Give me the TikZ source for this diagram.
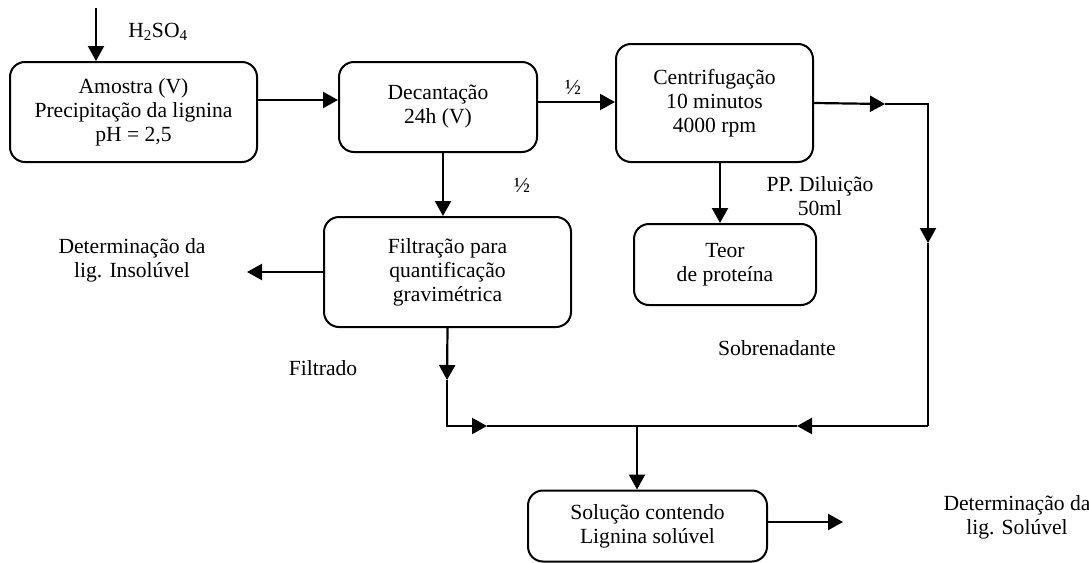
\documentclass[tikz,border=0pt]{standalone}
\usepackage{fontspec}
\setmainfont{Liberation Serif}
\usetikzlibrary{arrows.meta}
\begin{document}
\begin{tikzpicture}[x=1pt,y=-1pt, font=\fontsize{21.6}{24}\selectfont,
  box/.style={draw, line width=2pt, rounded corners=15pt, align=center, inner sep=0pt},
  conn/.style={line width=2.2pt},
  arr/.style={conn, -{Triangle[length=15pt,width=16pt]}},
  lbl/.style={align=center, inner sep=0pt}]
\useasboundingbox (0,0) rectangle (1089,562);

% boxes
\node[box, minimum width=247pt, minimum height=100pt] (am) at (133.5,112) {Amostra (V)\\Precipitação da lignina\\pH = 2,5};
\node[box, minimum width=198pt, minimum height=90pt] (dec) at (438,107) {Decantação\\24h (V)};
\node[box, minimum width=197pt, minimum height=118pt] (cen) at (714.5,103) {Centrifugação\\10 minutos\\4000 rpm};
\node[box, minimum width=247pt, minimum height=110pt] (fil) at (447.5,272) {Filtração para\\quantificação\\gravimétrica};
\node[box, minimum width=182pt, minimum height=81pt] (teor) at (725,264.5) {Teor\\de proteína};
\node[box, minimum width=239pt, minimum height=71pt] (sol) at (647.5,526) {Solução contendo\\Lignina solúvel};

% labels
\node[lbl] (h2so4) at (158,32) {H\textsubscript{2}SO\textsubscript{4}};
\node[lbl] (half1) at (573,87) {½};
\node[lbl] (half2) at (522,185) {½};
\node[lbl] (pp) at (820,196) {PP. Diluição\\50ml};
\node[lbl] (detin) at (132,260) {Determinação da\\lig. Insolúvel};
\node[lbl] (filt) at (323,368) {Filtrado};
\node[lbl] (sobr) at (777,348) {Sobrenadante};
\node[lbl] (detsol) at (1017,517) {Determinação da\\lig. Solúvel};

% coordinates
\coordinate (top) at (96,8);
\coordinate (tra) at (885,104);
\coordinate (tr) at (928,104);
\coordinate (rm) at (928,243);
\coordinate (br) at (928,426);
\coordinate (brl) at (797,426);
\coordinate (jn) at (637,426);
\coordinate (lm) at (447,380);
\coordinate (bl) at (447,426);
\coordinate (bla) at (487,426);
\coordinate (insl) at (247,272);
\coordinate (solr) at (843,522);

% connectors
\draw[arr] (top) -- (top |- am.north);
\draw[arr] ([yshift=12pt]am.east) -- ([yshift=12pt]am.east -| dec.west);
\draw[arr] ([yshift=5pt]dec.east) -- ([yshift=5pt]dec.east -| cen.west);
\draw[arr] (cen.east) -- (tra);
\draw[arr] (tra) -- (tr) -- (rm);
\draw[conn] (rm) -- (br);
\draw[arr] (br) -- (brl);
\draw[conn] (brl) -- (jn);
\draw[arr] ([xshift=5pt]dec.south) -- ([xshift=5pt]dec.south |- fil.north);
\draw[arr] ([xshift=5.5pt]cen.south) -- ([xshift=5.5pt]cen.south |- teor.north);
\draw[arr] (fil.west) -- (insl);
\draw[arr] (fil.south) -- (lm);
\draw[arr] (lm) -- (bl) -- (bla);
\draw[conn] (bla) -- (jn);
\draw[arr] (jn) -- (jn |- sol.north);
\draw[arr] ([yshift=4pt]sol.east) -- (solr);
\end{tikzpicture}
\end{document}
